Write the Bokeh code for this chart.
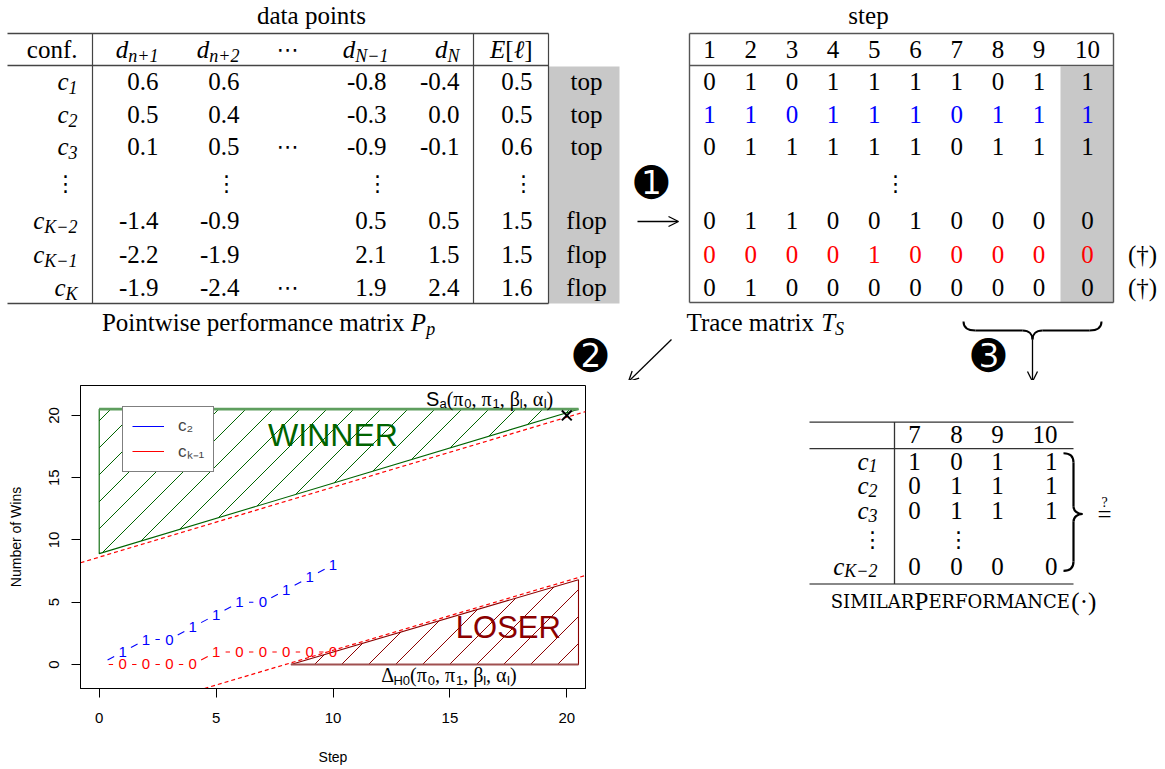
import math
from bokeh.plotting import figure
from bokeh.models import (Range1d, ColumnDataSource, Arrow, OpenHead, Legend,
                          LegendItem, FixedTicker)
from bokeh.layouts import column, row
from bokeh.embed import file_html
from bokeh.resources import INLINE
from bokeh.core.properties import value

# ---------------------------------------------------------------- data
conf_subs = ["1", "2", "3", "K\u22122", "K\u22121", "K"]
d_n1 = [0.6, 0.5, 0.1, -1.4, -2.2, -1.9]
d_n2 = [0.6, 0.4, 0.5, -0.9, -1.9, -2.4]
d_Nm1 = [-0.8, -0.3, -0.9, 0.5, 2.1, 1.9]
d_N = [-0.4, 0.0, -0.1, 0.5, 1.5, 2.4]
exp_loss = [0.5, 0.5, 0.6, 1.5, 1.5, 1.6]
outcome = ["top", "top", "top", "flop", "flop", "flop"]
ellipsis_rows = [2, 5]

steps = [1, 2, 3, 4, 5, 6, 7, 8, 9, 10]
trace_c1 = [0, 1, 0, 1, 1, 1, 1, 0, 1, 1]
trace_c2 = [1, 1, 0, 1, 1, 1, 0, 1, 1, 1]
trace_c3 = [0, 1, 1, 1, 1, 1, 0, 1, 1, 1]
trace_cKm2 = [0, 1, 1, 0, 0, 1, 0, 0, 0, 0]
trace_cKm1 = [0, 0, 0, 0, 1, 0, 0, 0, 0, 0]
trace_cK = [0, 1, 0, 0, 0, 0, 0, 0, 0, 0]
trace_rows = [trace_c1, trace_c2, trace_c3, trace_cKm2, trace_cKm1, trace_cK]
trace_colors = ["black", "blue", "black", "black", "red", "black"]
dagger_rows = [4, 5]

similar_steps = [7, 8, 9, 10]
similar_rows = [0, 1, 2, 3]

# sequential-test plot
c2_steps = [0, 1, 2, 3, 4, 5, 6, 7, 8, 9, 10]
c2_wins = [0, 1, 2, 2, 3, 4, 5, 5, 6, 7, 8]
ck1_steps = [0, 1, 2, 3, 4, 5, 6, 7, 8, 9, 10]
ck1_wins = [0, 0, 0, 0, 0, 1, 1, 1, 1, 1, 1]
winner_x = [0.0, 0.0, 20.5]
winner_y = [20.5, 8.9, 20.5]
loser_x = [8.2, 20.5, 20.5]
loser_y = [0.0, 0.0, 6.8]
upper_x = [-0.8, 20.8]
upper_y = [8.17, 20.3]
lower_x = [4.5, 20.8]
lower_y = [-1.93, 7.15]
end_x = [20]
end_y = [20]
x_ticks = [0, 5, 10, 15, 20]
y_ticks = [0, 5, 10, 15, 20]
XR = (-0.8, 20.8)
YR = (-1.93, 22.4)

# ---------------------------------------------------------------- text helpers
FONTS = {
    "rm": ("Liberation Serif", "normal"),
    "it": ("Liberation Serif", "italic"),
    "sans": ("Liberation Sans", "normal"),
    "sc": ("DejaVu Serif", "normal"),
    "sym": ("DejaVu Sans", "normal"),
}
W = {
    "rm": dict({d: 0.5 for d in "0123456789"}, **{
        ".": .25, "-": .333, " ": .25, "(": .333, ")": .333, "[": .333, "]": .333,
        ",": .25, "+": .564, "\u2212": .564, "\u00b7": .25, "\u2020": .5, "\u03c0": .55,
        "\u03b2": .5, "\u03b1": .55, "\u0394": .61, "a": .444, "b": .5, "c": .444,
        "d": .5, "e": .444, "f": .333, "h": .5, "i": .278, "l": .278, "m": .778,
        "n": .5, "o": .5, "p": .5, "r": .333, "s": .389, "t": .278, "w": .722,
        "x": .5, "P": .556, "T": .611}),
    "it": {"c": .444, "d": .5, "n": .5, "N": .667, "K": .667, "E": .611,
           "\u2113": .42, "P": .611, "T": .556, "S": .5, "p": .5, "+": .675,
           "\u2212": .675},
    "sans": {"S": .667, "a": .556, "H": .722, "0": .556, "1": .556, "l": .222},
    "sc": {"S": .70, "I": .38, "M": 1.01, "L": .65, "A": .74, "R": .79,
           "E": .75, "F": .71, "O": .80, "N": .85, "C": .75},
    "sym": {},
}
DEF = {"rm": .5, "it": .5, "sans": .556, "sc": .74, "sym": .8}


def tw(s, key, size):
    return sum(W[key].get(ch, DEF[key]) for ch in s) * size


class Txt:
    def __init__(self):
        self.groups = {}

    def put(self, x, y, text, key="rm", size=25, color="black", align="left"):
        g = self.groups.setdefault((key, size, color, align), {"x": [], "y": [], "text": []})
        g["x"].append(x)
        g["y"].append(y)
        g["text"].append(text)

    def draw(self, fig):
        for (key, size, color, align), d in self.groups.items():
            font, style = FONTS[key]
            fig.text(x="x", y="y", text="text", source=ColumnDataSource(d),
                     text_font=value(font), text_font_style=style,
                     text_font_size=f"{size}px", text_color=color,
                     text_align=align, text_baseline="middle")


def compose(txt, x, y, parts, anchor="left", size=25, sub=18, sub_dy=6,
            color="black", mapper=None):
    """parts: (text, fontkey, is_subscript[, explicit size])"""
    sizes = []
    for p in parts:
        if len(p) == 4:
            sizes.append(p[3])
        else:
            sizes.append(sub if p[2] else size)
    widths = [tw(p[0], p[1], z) for p, z in zip(parts, sizes)]
    total = sum(widths)
    cur = x - total if anchor == "right" else (x - total / 2 if anchor == "center" else x)
    for p, z, w in zip(parts, sizes, widths):
        px, py = cur, y + (sub_dy if p[2] else 0)
        if mapper:
            px, py = mapper(px, py)
        txt.put(px, py, p[0], p[1], z, color)
        cur += w


def fmt(v):
    return f"{v:.1f}"


def new_fig(w, h, xr, yr):
    f = figure(width=w, height=h, x_range=Range1d(*xr), y_range=Range1d(*yr),
               output_backend="svg", toolbar_location=None,
               x_axis_type=None, y_axis_type=None, min_border=0)
    f.outline_line_color = None
    f.background_fill_color = None
    f.border_fill_color = None
    return f


def arrow(fig, x0, y0, x1, y1):
    fig.add_layout(Arrow(end=OpenHead(size=10, line_width=1.3), x_start=x0, y_start=y0,
                         x_end=x1, y_end=y1, line_width=1.3, line_color="black"))


TOP_H = 380
BOT_H = 389
PLOT_W = 598
PAGE_W = 1165

# ---------------------------------------------------------------- top figure
top = new_fig(PAGE_W, TOP_H, (0, PAGE_W), (TOP_H, 0))
t = Txt()
RULE = "#444444"
row_y = [81, 114, 146, 220, 254, 287]
vdots_y = 183

# left table frame
top.quad(left=[548], right=[619], top=[66], bottom=[303], fill_color="#C8C8C8", line_color=None)
top.segment(x0=[7, 7, 7], y0=[33, 65, 303], x1=[548, 548, 548], y1=[33, 65, 303],
            line_color=RULE, line_width=1.3)
top.segment(x0=[92, 473, 548], y0=[33, 33, 33], x1=[92, 473, 548], y1=[303, 303, 303],
            line_color=RULE, line_width=1.2)
t.put(311, 15, "data points", "rm", 25, align="center")
hy = 49
t.put(77, hy, "conf.", "rm", 25, align="right")
compose(t, 158, hy, [("d", "it", False), ("n+1", "it", True)], "right")
compose(t, 239, hy, [("d", "it", False), ("n+2", "it", True)], "right")
t.put(287, hy, "\u22ef", "sym", 22, align="center")
compose(t, 388, hy, [("d", "it", False), ("N\u22121", "it", True)], "right")
compose(t, 459, hy, [("d", "it", False), ("N", "it", True)], "right")
compose(t, 532, hy, [("E", "it", False), ("[", "rm", False), ("\u2113", "it", False),
                     ("]", "rm", False)], "right")
for i, y in enumerate(row_y):
    compose(t, 77, y, [("c", "it", False), (conf_subs[i], "it", True)], "right")
    t.put(158, y, fmt(d_n1[i]), "rm", 25, align="right")
    t.put(239, y, fmt(d_n2[i]), "rm", 25, align="right")
    if i in ellipsis_rows:
        t.put(287, y, "\u22ef", "sym", 22, align="center")
    t.put(386, y, fmt(d_Nm1[i]), "rm", 25, align="right")
    t.put(459, y, fmt(d_N[i]), "rm", 25, align="right")
    t.put(532, y, fmt(exp_loss[i]), "rm", 25, align="right")
    t.put(586, y, outcome[i], "rm", 25, align="center")
for vx in (65, 226, 377, 523):
    t.put(vx, vdots_y, "\u22ee", "sym", 22, align="center")
compose(t, 268, 322, [("Pointwise performance matrix ", "rm", False), ("P", "it", False),
                      ("p", "it", True)], "center")

# trace table
TL, TR = 689, 1113
top.quad(left=[1060], right=[TR], top=[66], bottom=[302], fill_color="#C8C8C8", line_color=None)
top.segment(x0=[TL, TL, TL], y0=[33, 65, 302], x1=[TR, TR, TR], y1=[33, 65, 302],
            line_color="#555555", line_width=1.4)
top.segment(x0=[TL, TR], y0=[33, 33], x1=[TL, TR], y1=[302, 302],
            line_color="#555555", line_width=1.4)
t.put(868, 15, "step", "rm", 25, align="center")
col_x = [709 + 41.2 * k for k in range(9)] + [1087]
for k, s in enumerate(steps):
    t.put(col_x[k], hy, str(s), "rm", 25, align="center")
for i, y in enumerate(row_y):
    for k, v in enumerate(trace_rows[i]):
        t.put(col_x[k], y, str(v), "rm", 25, color=trace_colors[i], align="center")
    if i in dagger_rows:
        t.put(1142, y, "(\u2020)", "rm", 25, align="center")
t.put(895, vdots_y, "\u22ee", "sym", 22, align="center")
compose(t, 686, 322, [("Trace matrix ", "rm", False), ("T", "it", False), ("S", "it", True)],
        "left")

# circled numbers and arrows
t.put(651, 182, "\u278a", "sym", 41, align="center")
t.put(590, 355, "\u278b", "sym", 41, align="center")
t.put(988, 355, "\u278c", "sym", 41, align="center")
arrow(top, 637, 221, 678, 221)
arrow(top, 671, 339, 628, 381)
arrow(top, 1032, 339, 1032, 381)
# horizontal brace under steps 7-10
top.bezier(x0=[963, 1022, 1032, 1089], y0=[321, 330, 339, 330],
           x1=[975, 1032, 1042, 1101], y1=[330, 339, 330, 321],
           cx0=[963, 1029, 1032, 1097], cy0=[327, 330, 334, 330],
           cx1=[967, 1032, 1035, 1101], cy1=[330, 334, 330, 327],
           line_color="black", line_width=2)
top.segment(x0=[975, 1042], y0=[330, 330], x1=[1022, 1089], y1=[330, 330],
            line_color="black", line_width=2)
t.draw(top)

# ---------------------------------------------------------------- bottom-right figure
right = new_fig(PAGE_W - PLOT_W, BOT_H, (PLOT_W, PAGE_W), (TOP_H + BOT_H, TOP_H))
r = Txt()
SL, SR = 809, 1073
right.segment(x0=[SL, SL], y0=[427, 461], x1=[SR, SR], y1=[427, 461],
              line_color="#333333", line_width=1.3)
right.segment(x0=[SL], y0=[635], x1=[SR], y1=[635], line_color="#888888", line_width=2)
right.segment(x0=[894], y0=[427], x1=[894], y1=[635], line_color="#333333", line_width=1.3)
scol_x = [914, 956, 997]
srow_y = [477, 509, 541, 612]
for k, s in enumerate(similar_steps):
    if k < 3:
        r.put(scol_x[k], 443, str(s), "rm", 25, align="center")
    else:
        r.put(1057, 443, str(s), "rm", 25, align="right")
for j, ri in enumerate(similar_rows):
    y = srow_y[j]
    compose(r, 877, y, [("c", "it", False), (conf_subs[ri], "it", True)], "right")
    vals = [trace_rows[ri][steps.index(s)] for s in similar_steps]
    for k, v in enumerate(vals):
        if k < 3:
            r.put(scol_x[k], y, str(v), "rm", 25, align="center")
        else:
            r.put(1057, y, str(v), "rm", 25, align="right")
r.put(872, 578, "\u22ee", "sym", 22, align="center")
r.put(958, 578, "\u22ee", "sym", 22, align="center")
# right brace
right.bezier(x0=[1063, 1073, 1082, 1073], y0=[467, 535, 545, 606],
             x1=[1073, 1082, 1073, 1063], y1=[479, 545, 555, 618],
             cx0=[1070, 1073, 1077, 1073], cy0=[467, 541, 545, 613],
             cx1=[1073, 1077, 1073, 1070], cy1=[472, 545, 549, 618],
             line_color="black", line_width=2.2)
right.segment(x0=[1073, 1073], y0=[479, 555], x1=[1073, 1073], y1=[535, 606],
              line_color="black", line_width=2.2)
r.put(1104, 545, "=", "rm", 25, align="center")
r.put(1104, 530, "?", "rm", 14, align="center")
compose(r, 962, 657, [("SIMILAR", "sc", False, 18), ("P", "rm", False, 25),
                      ("ERFORMANCE", "sc", False, 18), ("(\u00b7)", "rm", False, 25)],
        "center")
r.draw(right)

# ---------------------------------------------------------------- plot
FX0, FX1, FY0, FY1 = 80, 585, 385, 688


def to_px(x, y):
    return (FX0 + (x - XR[0]) / (XR[1] - XR[0]) * (FX1 - FX0),
            FY1 - (y - YR[0]) / (YR[1] - YR[0]) * (FY1 - FY0))


def to_data(px, py):
    return (XR[0] + (px - FX0) / (FX1 - FX0) * (XR[1] - XR[0]),
            YR[0] + (FY1 - py) / (FY1 - FY0) * (YR[1] - YR[0]))


plot = figure(width=PLOT_W, height=BOT_H, x_range=Range1d(*XR), y_range=Range1d(*YR),
              output_backend="svg", toolbar_location=None,
              min_border_left=FX0, min_border_right=PLOT_W - FX1,
              min_border_top=FY0 - TOP_H, min_border_bottom=TOP_H + BOT_H - FY1)
plot.grid.visible = False
plot.outline_line_color = "black"
plot.outline_line_width = 1
plot.xaxis.ticker = FixedTicker(ticks=x_ticks)
plot.yaxis.ticker = FixedTicker(ticks=y_ticks)
for ax in (plot.xaxis[0], plot.yaxis[0]):
    ax.major_tick_out = 9
    ax.major_tick_in = 0
    ax.minor_tick_line_color = None
    ax.axis_line_color = "black"
    ax.major_tick_line_color = "black"
    ax.major_label_text_font = "Liberation Sans"
    ax.major_label_text_font_size = "15px"
    ax.major_label_text_color = "black"
    ax.axis_label_text_font = "Liberation Sans"
    ax.axis_label_text_font_size = "14px"
    ax.axis_label_text_font_style = "normal"
    ax.axis_label_text_color = "black"
plot.xaxis.axis_label = "Step"
plot.yaxis.axis_label = "Number of Wins"
plot.xaxis.major_label_standoff = 15
plot.xaxis.axis_label_standoff = 23
plot.yaxis.major_label_standoff = 12
plot.yaxis.axis_label_standoff = 23
plot.yaxis.major_label_orientation = "vertical"


def hatch_segments(xs, ys, c0=519.0, step=27.0):
    poly = [to_px(x, y) for x, y in zip(xs, ys)]
    s = [p[0] + p[1] for p in poly]
    k0 = math.ceil((min(s) - c0) / step)
    k1 = math.floor((max(s) - c0) / step)
    out = {"x0": [], "y0": [], "x1": [], "y1": []}
    n = len(poly)
    for k in range(k0, k1 + 1):
        c = c0 + k * step
        pts = []
        for i in range(n):
            a, b = poly[i], poly[(i + 1) % n]
            fa, fb = a[0] + a[1] - c, b[0] + b[1] - c
            if fa == fb:
                continue
            if min(fa, fb) <= 0 <= max(fa, fb):
                tt = fa / (fa - fb)
                pts.append((a[0] + tt * (b[0] - a[0]), a[1] + tt * (b[1] - a[1])))
        if len(pts) >= 2:
            pts.sort()
            p, q = pts[0], pts[-1]
            if abs(p[0] - q[0]) > 0.5:
                dp, dq = to_data(*p), to_data(*q)
                out["x0"].append(dp[0]); out["y0"].append(dp[1])
                out["x1"].append(dq[0]); out["y1"].append(dq[1])
    return out


def gapped(xs, ys, gap=9.5):
    out = {"x0": [], "y0": [], "x1": [], "y1": []}
    for i in range(1, len(xs)):
        ax, ay, bx, by = xs[i - 1], ys[i - 1], xs[i], ys[i]
        apx, apy = to_px(ax, ay)
        bpx, bpy = to_px(bx, by)
        L = math.hypot(bpx - apx, bpy - apy)
        tt = gap / L
        out["x0"].append(ax + tt * (bx - ax)); out["y0"].append(ay + tt * (by - ay))
        out["x1"].append(bx - tt * (bx - ax)); out["y1"].append(by - tt * (by - ay))
    return out


GREEN = "#006400"
DRED = "#8B0000"
# winner region
plot.segment(source=ColumnDataSource(hatch_segments(winner_x, winner_y)), x0="x0", y0="y0",
             x1="x1", y1="y1", line_color=GREEN, line_width=1)
plot.patch(winner_x, winner_y, fill_alpha=0, line_color=GREEN, line_width=1.1)
plot.line([winner_x[0], winner_x[2]], [winner_y[0], winner_y[2]], line_color="#5E9E5E",
          line_width=2.6)
# loser region
plot.segment(source=ColumnDataSource(hatch_segments(loser_x, loser_y)), x0="x0", y0="y0",
             x1="x1", y1="y1", line_color=DRED, line_width=1)
plot.patch(loser_x, loser_y, fill_alpha=0, line_color=DRED, line_width=1.1)
plot.line([loser_x[0], loser_x[1]], [loser_y[0], loser_y[1]], line_color="#A05050",
          line_width=2)
# boundaries
plot.line(upper_x, upper_y, line_color="red", line_dash="4 3", line_width=1.2)
plot.line(lower_x, lower_y, line_color="red", line_dash="4 3", line_width=1.2)
plot.scatter(end_x, end_y, marker="x", size=14, line_color="black", line_width=2)

# traces
blue_r = plot.segment(source=ColumnDataSource(gapped(c2_steps, c2_wins)), x0="x0", y0="y0",
                      x1="x1", y1="y1", line_color="blue", line_width=1.1)
red_r = plot.segment(source=ColumnDataSource(gapped(ck1_steps, ck1_wins)), x0="x0", y0="y0",
                     x1="x1", y1="y1", line_color="#FF0000", line_width=1.1)
plot.text(x=c2_steps[1:], y=c2_wins[1:], text=[str(v) for v in trace_c2], text_color="blue",
          text_font=value("Liberation Sans"), text_font_size="15px", text_align="center",
          text_baseline="middle")
plot.text(x=ck1_steps[1:], y=ck1_wins[1:], text=[str(v) for v in trace_cKm1],
          text_color="red", text_font=value("Liberation Sans"), text_font_size="15px",
          text_align="center", text_baseline="middle")

plot.text(x=[10.0], y=[18.46], text=["WINNER"], text_color=GREEN,
          text_font=value("Liberation Sans"), text_font_size="32px", text_align="center",
          text_baseline="middle")
plot.text(x=[17.5], y=[2.97], text=["LOSER"], text_color=DRED,
          text_font=value("Liberation Sans"), text_font_size="31px", text_align="center",
          text_baseline="middle")

pt = Txt()
sa_px = to_px(16.7, 21.35)
compose(pt, sa_px[0], sa_px[1],
        [("S", "sans", False), ("a", "sans", True), ("(\u03c0", "rm", False),
         ("0", "sans", True), (", \u03c0", "rm", False), ("1", "sans", True),
         (", \u03b2", "rm", False), ("l", "sans", True), (", \u03b1", "rm", False),
         ("l", "sans", True), (")", "rm", False)],
        "center", size=20, sub=13, sub_dy=5, mapper=to_data)
dh_px = to_px(14.96, -0.88)
compose(pt, dh_px[0], dh_px[1],
        [("\u0394", "rm", False), ("H0", "sans", True), ("(\u03c0", "rm", False),
         ("0", "sans", True), (", \u03c0", "rm", False), ("1", "sans", True),
         (", \u03b2", "rm", False), ("l", "sans", True), (", \u03b1", "rm", False),
         ("l", "sans", True), (")", "rm", False)],
        "center", size=20, sub=13, sub_dy=5, mapper=to_data)
pt.draw(plot)

legend = Legend(items=[LegendItem(label="c\u2082", renderers=[blue_r]),
                       LegendItem(label="c\u2096\u208b\u2081", renderers=[red_r])],
                location=(42, 216), border_line_color="black", border_line_width=1,
                padding=9, spacing=3, glyph_width=32, glyph_height=18, label_standoff=14,
                label_text_font="Liberation Sans", label_text_font_size="17px", margin=0,
                background_fill_alpha=1)
plot.add_layout(legend)

layout = column(top, row(plot, right))
open("out.html", "w").write(file_html(layout, INLINE))
